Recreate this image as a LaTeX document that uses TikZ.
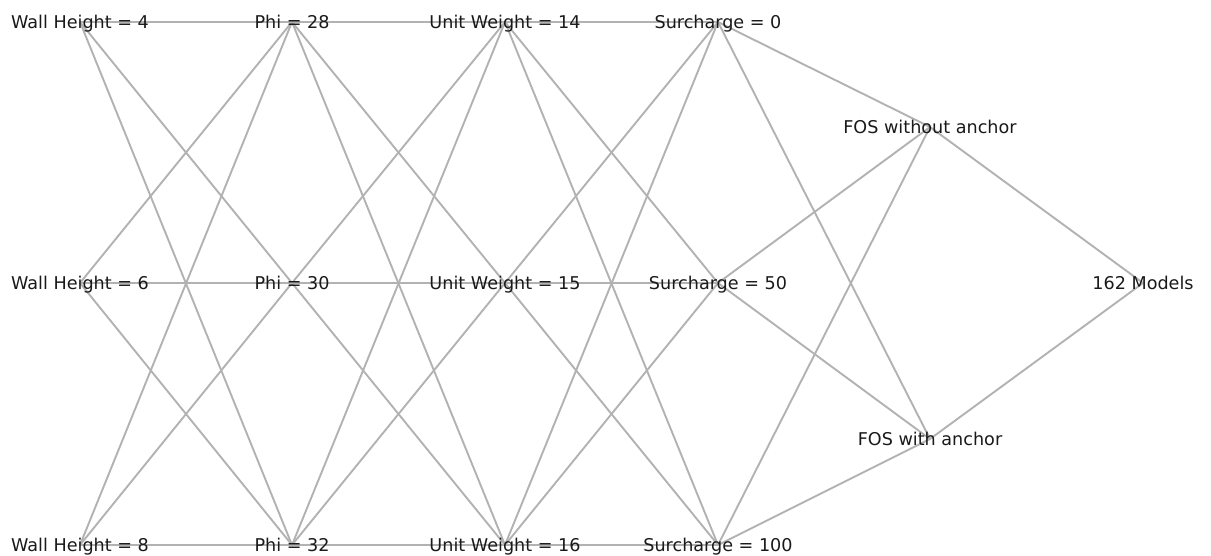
\documentclass[tikz,border=0pt]{standalone}
\usepackage{fontspec}
\setmainfont{DejaVu Sans}
\begin{document}
\begin{tikzpicture}[x=1pt,y=-1pt,
  lbl/.style={inner sep=0pt,text=black!90,yshift=-2.5pt,font=\fontsize{17.6}{21}\selectfont},
  edge/.style={draw=black!30,line width=1.9pt}]
\useasboundingbox (0,0) rectangle (1211,556);
\foreach \n/\x/\y in {
  w1/80/22, w2/80/283, w3/80/545,
  p1/292/22, p2/292/283, p3/292/545,
  u1/505/22, u2/505/283, u3/505/545,
  s1/718/22, s2/718/283, s3/718/545,
  f1/930/127, f2/930/439,
  m/1143/283}
  { \coordinate (\n) at (\x,\y); }
\foreach \a in {w1,w2,w3} \foreach \b in {p1,p2,p3} \draw[edge] (\a) -- (\b);
\foreach \a in {p1,p2,p3} \foreach \b in {u1,u2,u3} \draw[edge] (\a) -- (\b);
\foreach \a in {u1,u2,u3} \foreach \b in {s1,s2,s3} \draw[edge] (\a) -- (\b);
\foreach \a in {s1,s2,s3} \foreach \b in {f1,f2} \draw[edge] (\a) -- (\b);
\foreach \a in {f1,f2} \draw[edge] (\a) -- (m);
\foreach \n/\t in {
  w1/{Wall Height = 4}, w2/{Wall Height = 6}, w3/{Wall Height = 8},
  p1/{Phi = 28}, p2/{Phi = 30}, p3/{Phi = 32},
  u1/{Unit Weight = 14}, u2/{Unit Weight = 15}, u3/{Unit Weight = 16},
  s1/{Surcharge = 0}, s2/{Surcharge = 50}, s3/{Surcharge = 100},
  f1/{FOS without anchor}, f2/{FOS with anchor}, m/{162 Models}}
  { \node[lbl] (t\n) at (\n) {\strut\t}; }
\end{tikzpicture}
\end{document}
